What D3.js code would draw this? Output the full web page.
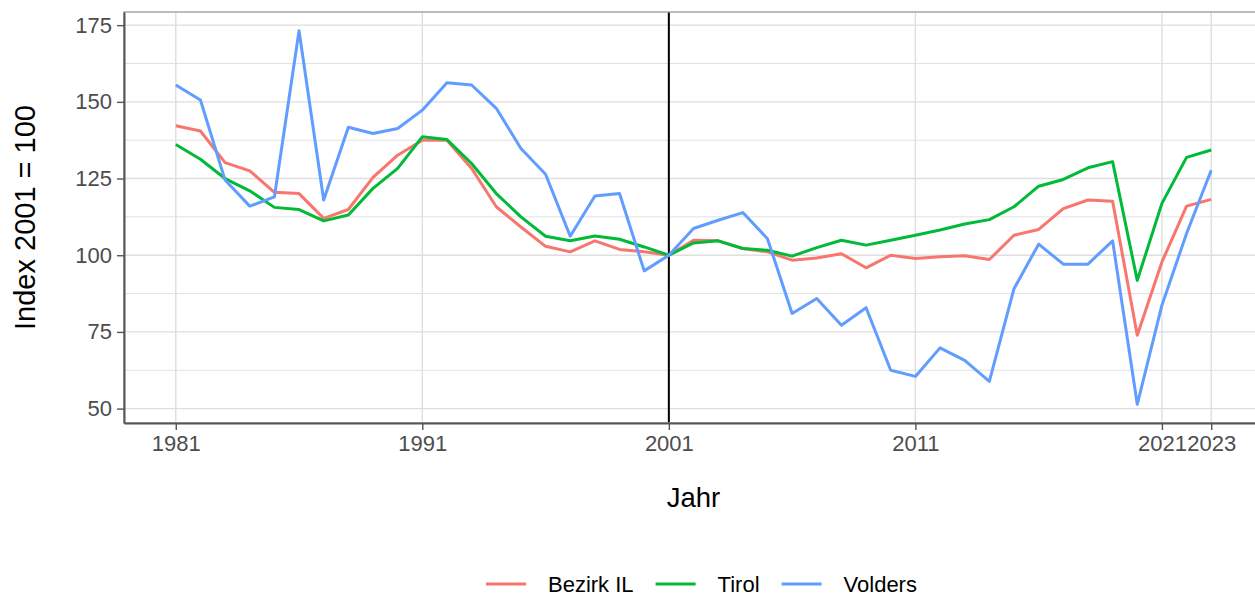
<!DOCTYPE html>
<html>
<head>
<meta charset="utf-8">
<script src="https://cdn.jsdelivr.net/npm/d3@7"></script>
<style>
  body { margin: 0; background: #fff; }
  svg { font-family: "Liberation Sans", Arial, sans-serif; }
</style>
</head>
<body>
<script>
// Index values (2001 = 100)
const years = [1981, 1982, 1983, 1984, 1985, 1986, 1987, 1988, 1989, 1990,
               1991, 1992, 1993, 1994, 1995, 1996, 1997, 1998, 1999, 2000,
               2001, 2002, 2003, 2004, 2005, 2006, 2007, 2008, 2009, 2010,
               2011, 2012, 2013, 2014, 2015, 2016, 2017, 2018, 2019, 2020,
               2021, 2022, 2023];

const bezirkIL = [142.2, 140.5, 130.2, 127.5, 120.5, 120.1, 112.0, 114.9, 125.4, 132.6,
                  137.5, 137.5, 128.3, 115.8, 109.2, 102.9, 101.1, 104.7, 101.9, 101.1,
                  100.0, 104.9, 104.7, 102.2, 101.1, 98.4, 99.1, 100.5, 95.9, 100.0,
                  98.9, 99.5, 99.8, 98.6, 106.5, 108.4, 115.2, 118.0, 117.6, 73.9,
                  97.8, 116.0, 118.2];

const tirol = [136.1, 131.3, 125.0, 121.0, 115.6, 114.9, 111.2, 113.1, 121.8, 128.3,
               138.6, 137.7, 129.9, 120.1, 112.5, 106.2, 104.7, 106.3, 105.2, 102.7,
               100.0, 104.0, 104.7, 102.2, 101.6, 99.7, 102.5, 104.9, 103.3, 104.9,
               106.5, 108.2, 110.2, 111.6, 115.8, 122.5, 124.7, 128.5, 130.5, 91.8,
               116.9, 131.9, 134.3];

const volders = [155.5, 150.6, 124.5, 116.0, 119.0, 173.2, 118.0, 141.7, 139.7, 141.3,
                 147.3, 156.2, 155.5, 147.9, 134.8, 126.4, 106.2, 119.3, 120.1, 94.9,
                 100.0, 108.7, 111.4, 113.9, 105.4, 81.0, 85.9, 77.2, 82.9, 62.5,
                 60.5, 69.8, 65.7, 58.9, 89.1, 103.6, 97.1, 97.1, 104.7, 51.4,
                 83.7, 107.1, 127.7];

const seriesNames = ["Bezirk IL", "Tirol", "Volders"];
const seriesColors = ["#F8766D", "#00BA38", "#619CFF"];
const xTicks = [1981, 1991, 2001, 2011, 2021, 2023];
const yTicks = [50, 75, 100, 125, 150, 175];
const yMinor = [62.5, 87.5, 112.5, 137.5, 162.5];
const refYear = 2001;

const width = 1255, height = 597;
const panel = { left: 124, right: 1263, top: 12, bottom: 423 };

const svg = d3.select("body").append("svg")
    .attr("width", width)
    .attr("height", height);

const series = [bezirkIL, tirol, volders].map((vals, i) => ({
    name: seriesNames[i],
    color: seriesColors[i],
    values: vals.map((v, j) => ({ year: years[j], value: v }))
}));

// ggplot-like 5% expansion on both axes
const xExt = d3.extent(years);
const xPad = (xExt[1] - xExt[0]) * 0.05;
const allVals = [].concat(bezirkIL, tirol, volders);
const yExt = d3.extent(allVals);
const yPad = (yExt[1] - yExt[0]) * 0.05;

const x = d3.scaleLinear()
    .domain([xExt[0] - xPad, xExt[1] + xPad])
    .range([panel.left, panel.right]);

const y = d3.scaleLinear()
    .domain([yExt[0] - yPad, yExt[1] + yPad])
    .range([panel.bottom, panel.top]);

// grid
const grid = svg.append("g");
grid.selectAll(".minor").data(yMinor).enter().append("line")
    .attr("x1", panel.left).attr("x2", panel.right)
    .attr("y1", d => y(d)).attr("y2", d => y(d))
    .attr("stroke", "#dedede").attr("stroke-width", 0.9);
grid.selectAll(".hmajor").data(yTicks).enter().append("line")
    .attr("x1", panel.left).attr("x2", panel.right)
    .attr("y1", d => y(d)).attr("y2", d => y(d))
    .attr("stroke", "#dedede").attr("stroke-width", 1.4);
grid.selectAll(".vmajor").data(xTicks).enter().append("line")
    .attr("x1", d => x(d)).attr("x2", d => x(d))
    .attr("y1", panel.top).attr("y2", panel.bottom)
    .attr("stroke", "#dedede").attr("stroke-width", 1.4);

// reference line at 2001
svg.append("line")
    .attr("x1", x(refYear)).attr("x2", x(refYear))
    .attr("y1", panel.top).attr("y2", panel.bottom)
    .attr("stroke", "#000").attr("stroke-width", 2);

// series lines
const line = d3.line()
    .x(d => x(d.year))
    .y(d => y(d.value));

svg.selectAll(".series").data(series).enter().append("path")
    .attr("class", "series")
    .attr("d", d => line(d.values))
    .attr("fill", "none")
    .attr("stroke", d => d.color)
    .attr("stroke-width", 3)
    .attr("stroke-linejoin", "round");

// panel border: light top/right, darker axis lines
svg.append("rect")
    .attr("x", panel.left).attr("y", panel.top)
    .attr("width", panel.right - panel.left).attr("height", panel.bottom - panel.top)
    .attr("fill", "none").attr("stroke", "#a0a0a0").attr("stroke-width", 1.4);

// axes
const xAxis = svg.append("g")
    .attr("transform", `translate(0,${panel.bottom})`)
    .call(d3.axisBottom(x).tickValues(xTicks).tickFormat(d3.format("d"))
        .tickSizeInner(7).tickSizeOuter(0).tickPadding(5));

const yAxis = svg.append("g")
    .attr("transform", `translate(${panel.left},0)`)
    .call(d3.axisLeft(y).tickValues(yTicks)
        .tickSizeInner(7).tickSizeOuter(0).tickPadding(5));

[xAxis, yAxis].forEach(g => {
    g.select(".domain").attr("stroke", "#555").attr("stroke-width", 2);
    g.selectAll(".tick line").attr("stroke", "#555").attr("stroke-width", 1.4);
    g.selectAll(".tick text")
        .attr("fill", "#4d4d4d")
        .style("font-size", "22px")
        .style("font-family", "'Liberation Sans', Arial, sans-serif");
});
xAxis.selectAll(".tick text").attr("dy", "0.71em");

// axis titles
svg.append("text")
    .attr("x", (panel.left + panel.right) / 2)
    .attr("y", 507)
    .attr("text-anchor", "middle")
    .style("font-size", "27.5px")
    .text("Jahr");

svg.append("text")
    .attr("transform", `translate(35,${(panel.top + panel.bottom) / 2}) rotate(-90)`)
    .attr("text-anchor", "middle")
    .style("font-size", "29px")
    .text("Index 2001 = 100");

// legend
const legend = svg.append("g");
let lx = 0;
series.forEach((s, i) => {
    const item = legend.append("g").attr("transform", `translate(${lx},0)`);
    item.append("line")
        .attr("x1", 0).attr("x2", 40)
        .attr("y1", 0).attr("y2", 0)
        .attr("stroke", s.color).attr("stroke-width", 3);
    const t = item.append("text")
        .attr("x", 62).attr("y", 8)
        .style("font-size", "22px")
        .text(s.name);
    lx += 62 + t.node().getComputedTextLength() + 22;
});
legend.attr("transform", `translate(486,584)`);
</script>
</body>
</html>
